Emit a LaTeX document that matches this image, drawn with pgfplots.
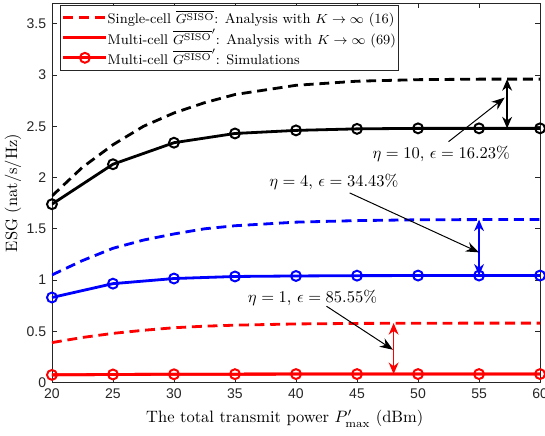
\documentclass[border=0pt]{standalone}
\usepackage{fontspec}
\usepackage{pgfplots}
\pgfplotsset{compat=1.18}
\usetikzlibrary{arrows.meta}
\newfontfamily\tickfont{Liberation Sans}
\definecolor{axgray}{rgb}{0.15,0.15,0.15}
\newcommand\Gs{\overline{G^{\mathrm{SISO}}}}
\newcommand\legA{Single-cell $\Gs$: Analysis with $K\to\infty$ (16)}
\newcommand\legB{Multi-cell $\Gs^{\prime}$: Analysis with $K\to\infty$ (69)}
\newcommand\legC{Multi-cell $\Gs^{\prime}$: Simulations}

\pgfplotstableread{
x    S10   M10   S4    M4     S1
20   1.82  1.74  1.05  0.83   0.39
22.5 2.10  2.00  1.19  0.91   0.44
25   2.32  2.13  1.31  0.965  0.48
27.5 2.50  2.26  1.39  0.995  0.51
30   2.63  2.34  1.45  1.015  0.535
32.5 2.73  2.40  1.50  1.027  0.55
35   2.81  2.43  1.53  1.035  0.56
40   2.90  2.46  1.565 1.040  0.572
45   2.94  2.475 1.58  1.043  0.577
50   2.955 2.48  1.588 1.044  0.579
55   2.96  2.48  1.59  1.044  0.58
60   2.96  2.48  1.59  1.044  0.58
}\dataS

\pgfplotstableread{
x    M10   M4     M1
20   1.74  0.83   0.075
25   2.13  0.965  0.079
30   2.34  1.015  0.081
35   2.43  1.035  0.082
40   2.46  1.040  0.083
45   2.475 1.043  0.083
50   2.48  1.044  0.083
55   2.48  1.044  0.083
60   2.48  1.044  0.083
}\dataM

\begin{document}
\begin{tikzpicture}
\begin{axis}[name=ax, scale only axis, width=296pt, height=230pt,
  xmin=20, xmax=60, ymin=0, ymax=3.7,
  xtick={20,25,30,35,40,45,50,55,60},
  ytick={0,0.5,1,1.5,2,2.5,3,3.5},
  tick align=inside, major tick length=3pt,
  axis line style={axgray, line width=0.5pt},
  tick style={axgray, line width=0.4pt},
  tick label style={font=\tickfont\fontsize{8.5}{10}\selectfont, text=axgray},
  /pgf/number format/assume math mode=true,
  xlabel={The total transmit power $P^{\prime}_{\max}$ (dBm)},
  ylabel={ESG (nat/s/Hz)},
  label style={font=\fontsize{10}{12}\selectfont},
  xlabel style={at={(axis description cs:0.477,0)}, anchor=base, yshift=-24.5pt},
  ylabel style={at={(axis description cs:-0.0797,0.5)}, anchor=center},
  legend style={at={(axis description cs:0.016,0.995)}, anchor=north west,
    font=\fontsize{8.5}{10}\selectfont, draw=axgray,
    inner sep=1.2pt, row sep=0pt,
    nodes={text height=10pt, text depth=2.2pt, inner sep=0pt, outer sep=0pt},
    cells={anchor=west}},
  legend cell align=left,
  legend image code/.code={\draw[mark repeat=2,mark phase=2] plot coordinates {(0pt,0pt) (13pt,0pt) (26pt,0pt)};},
]
% red, eta = 1
\addplot[red, line width=1.7pt, dash pattern=on 6pt off 3.5pt] table[x=x, y=S1] {\dataS};
\addlegendentry{\legA}
\addplot[red, line width=1.7pt] table[x=x, y=M1] {\dataM};
\addlegendentry{\legB}
\addplot[red, line width=1.7pt, mark=o, mark size=3pt, mark options={solid, line width=1.2pt}] table[x=x, y=M1] {\dataM};
\addlegendentry{\legC}
% blue, eta = 4
\addplot[blue, line width=1.7pt, dash pattern=on 6pt off 3.5pt, forget plot] table[x=x, y=S4] {\dataS};
\addplot[blue, line width=1.7pt, mark=o, mark size=3pt, mark options={solid, line width=1.2pt}, forget plot] table[x=x, y=M4] {\dataM};
% black, eta = 10
\addplot[black, line width=1.7pt, dash pattern=on 6pt off 3.5pt, forget plot] table[x=x, y=S10] {\dataS};
\addplot[black, line width=1.7pt, mark=o, mark size=3pt, mark options={solid, line width=1.2pt}, forget plot] table[x=x, y=M10] {\dataM};

% double arrows
\draw[black, line width=0.8pt, {Stealth[length=7pt,width=6pt]}-{Stealth[length=7pt,width=6pt]}] (axis cs:57.3,2.96) -- (axis cs:57.3,2.48);
\draw[blue, line width=0.8pt, {Stealth[length=7pt,width=6pt]}-{Stealth[length=7pt,width=6pt]}] (axis cs:55,1.59) -- (axis cs:55,1.044);
\draw[red, line width=0.8pt, {Stealth[length=7pt,width=6pt]}-{Stealth[length=7pt,width=6pt]}] (axis cs:48,0.58) -- (axis cs:48,0.083);

% annotations
\node[font=\fontsize{10}{12}\selectfont] at (axis cs:51.9,2.23) {$\eta=10$, $\epsilon=16.23\%$};
\node[font=\fontsize{10}{12}\selectfont] at (axis cs:43.1,1.96) {$\eta=4$, $\epsilon=34.43\%$};
\node[font=\fontsize{10}{12}\selectfont] at (axis cs:41.35,0.83) {$\eta=1$, $\epsilon=85.55\%$};
\draw[black, line width=0.6pt, -{Stealth[length=8pt,width=6pt]}] (axis cs:52.5,2.35) -- (axis cs:57.1,2.78);
\draw[black, line width=0.6pt, -{Stealth[length=8pt,width=6pt]}] (axis cs:44.4,1.85) -- (axis cs:55,1.27);
\draw[black, line width=0.6pt, -{Stealth[length=8pt,width=6pt]}] (axis cs:42.5,0.745) -- (axis cs:47.95,0.32);
\end{axis}
\pgfresetboundingbox
\path[use as bounding box] ([shift={(-31.5pt,-32pt)}]ax.south west) rectangle ([shift={(3pt,2pt)}]ax.north east);
\end{tikzpicture}
\end{document}
